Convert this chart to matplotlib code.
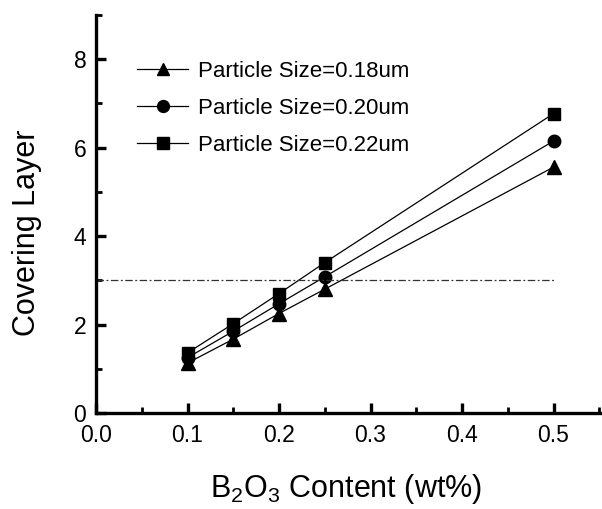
import matplotlib
matplotlib.use("Agg")
import matplotlib.pyplot as plt
from matplotlib.ticker import MultipleLocator, FormatStrFormatter

plt.rcParams['font.family'] = ['Liberation Sans', 'DejaVu Sans']
plt.rcParams['mathtext.default'] = 'regular'

# B2O3 content (wt%)
content = [0.1, 0.15, 0.2, 0.25, 0.5]

# covering layer for each particle size
layer_018 = [1.13, 1.67, 2.25, 2.80, 5.56]
layer_020 = [1.25, 1.85, 2.47, 3.08, 6.15]
layer_022 = [1.36, 2.02, 2.70, 3.40, 6.77]

labels = ['Particle Size=0.18um', 'Particle Size=0.20um', 'Particle Size=0.22um']
threshold = 3.0

fig = plt.figure(figsize=(6.02, 5.09), dpi=100)
# axes box in pixels: left 96, bottom spine at 413, top at 15
ax = fig.add_axes([96 / 602, 96 / 509, 506 / 602, 398 / 509])

ax.plot(content, layer_018, 'k-^', lw=0.9, ms=9.5, label=labels[0])
ax.plot(content, layer_020, 'k-o', lw=0.9, ms=9, label=labels[1])
ax.plot(content, layer_022, 'k-s', lw=0.9, ms=8.5, label=labels[2])

# reference level
ax.plot([0.0, 0.5], [threshold, threshold], color='#333333', lw=0.9, ls=(0, (6, 2, 1.5, 2)))

ax.set_xlim(0.0, 0.553)
ax.set_ylim(0, 9)
ax.xaxis.set_major_locator(MultipleLocator(0.1))
ax.xaxis.set_minor_locator(MultipleLocator(0.05))
ax.yaxis.set_major_locator(MultipleLocator(2))
ax.yaxis.set_minor_locator(MultipleLocator(1))
ax.xaxis.set_major_formatter(FormatStrFormatter('%.1f'))

for s in ['top', 'right']:
    ax.spines[s].set_visible(False)
for s in ['left', 'bottom']:
    ax.spines[s].set_linewidth(2.4)

ax.tick_params(which='major', direction='in', length=7, width=2.4, labelsize=16.5, pad=8)
ax.tick_params(which='minor', direction='in', length=4, width=2)
ax.tick_params(axis='y', which='major', pad=7)

ax.set_xlabel('B$_2$O$_3$ Content (wt%)', fontsize=22)
ax.xaxis.set_label_coords(0.495, -0.148)
ax.set_ylabel('Covering Layer', fontsize=22)
ax.yaxis.set_label_coords(-0.107, 0.452)

ax.legend(loc='upper left', bbox_to_anchor=(137 / 602, 1 - 61 / 509),
          bbox_transform=fig.transFigure, frameon=False, borderpad=0, borderaxespad=0,
          fontsize=16, handlelength=2.3, handletextpad=0.45, labelspacing=0.72,
          markerscale=0.95)

fig.savefig('out.png', dpi=100)
